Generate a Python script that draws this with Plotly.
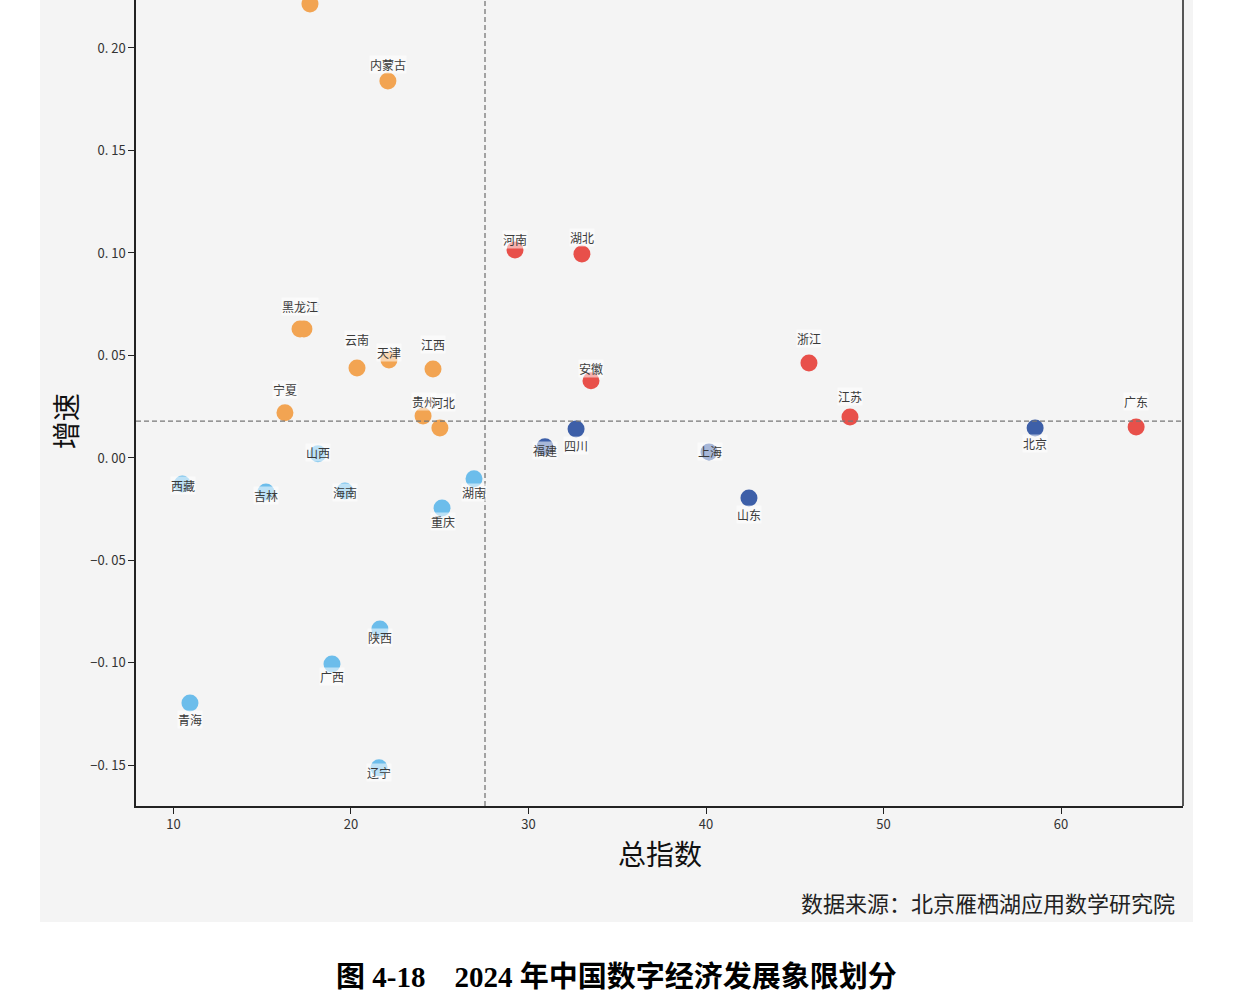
import plotly.graph_objects as go

# ---------------- data ----------------
provinces = ["新疆", "内蒙古", "甘肃", "黑龙江", "云南", "天津", "江西", "宁夏", "贵州", "河北",
             "河南", "湖北", "安徽", "浙江", "江苏", "广东",
             "四川", "福建", "上海", "北京", "山东",
             "山西", "西藏", "吉林", "海南", "湖南", "重庆", "陕西", "广西", "青海", "辽宁"]
total_index = [17.69, 22.08, 17.35, 17.13, 20.34, 22.14, 24.62, 16.28, 24.06, 25.01,
               29.24, 33.01, 33.52, 45.80, 48.11, 64.23,
               32.68, 30.93, 40.17, 58.54, 42.42,
               18.14, 10.50, 15.21, 19.66, 26.93, 25.13, 21.63, 18.93, 10.93, 21.58]
growth = [0.2215, 0.1839, 0.0629, 0.0629, 0.0439, 0.0478, 0.0434, 0.0220, 0.0205, 0.0146,
          0.1015, 0.0995, 0.0376, 0.0463, 0.0200, 0.0151,
          0.0141, 0.0054, 0.0029, 0.0146, -0.0195,
          0.0020, -0.0127, -0.0166, -0.0161, -0.0102, -0.0244, -0.0834, -0.1005, -0.1195, -0.1512]
quadrant = ["低总指数高增速"] * 10 + ["高总指数高增速"] * 6 + ["高总指数低增速"] * 5 + ["低总指数低增速"] * 10
mean_index = 27.55
mean_growth = 0.018

y_tickvals = [-0.15, -0.10, -0.05, 0.00, 0.05, 0.10, 0.15, 0.20]
y_ticktext = ["−0. 15", "−0. 10", "−0. 05", "0. 00", "0. 05", "0. 10", "0. 15", "0. 20"]
x_tickvals = [10, 20, 30, 40, 50, 60]

# ---------------- styles ----------------
colors = {"低总指数高增速": "#F2A452", "高总指数高增速": "#E8504A",
          "高总指数低增速": "#3D5FA8", "低总指数低增速": "#6CBDEB"}
# label pixel offsets (dx, dy) relative to each point, screen-down positive dy
label_offsets = {
    "新疆": (0, -34), "内蒙古": (0, -16), "黑龙江": (0, -23), "甘肃": (4, -23), "云南": (0, -28),
    "天津": (0, -7), "江西": (0, -24), "宁夏": (0, -23), "贵州": (1, -14), "河北": (3, -26),
    "河南": (0, -10), "湖北": (0, -16), "安徽": (0, -12), "浙江": (0, -25), "江苏": (0, -20),
    "广东": (0, -25), "四川": (0, 16), "福建": (0, 4), "上海": (1, 0), "北京": (0, 15),
    "山东": (0, 17), "山西": (0, -1), "西藏": (1, 2), "吉林": (0, 4), "海南": (0, 2),
    "湖南": (0, 14), "重庆": (1, 14), "陕西": (0, 9), "广西": (0, 13), "青海": (0, 17),
    "辽宁": (0, 5),
}
faint_labels = {"甘肃"}

FONT = "Noto Sans CJK SC, Noto Sans, sans-serif"

fig = go.Figure()
fig.add_trace(go.Scatter(
    x=total_index, y=growth, mode="markers",
    marker=dict(size=17, color=[colors[q] for q in quadrant], line=dict(width=0)),
    text=provinces, hoverinfo="text", showlegend=False, cliponaxis=False,
))

annotations = []
for name, xv, yv in zip(provinces, total_index, growth):
    dx, dy = label_offsets[name]
    faint = name in faint_labels
    annotations.append(dict(
        x=xv, y=yv, xref="x", yref="y", text=name, showarrow=False,
        xshift=dx, yshift=-dy,
        font=dict(family=FONT, size=12, color="rgba(58,58,58,0.18)" if faint else "#3a3a3a"),
        bgcolor="rgba(255,255,255,0.15)" if faint else "rgba(255,255,255,0.55)", borderpad=0,
    ))

# axis titles & texts
annotations += [
    dict(x=0.5, y=-0.058, xref="paper", yref="paper", text="总指数", showarrow=False,
         font=dict(family=FONT, size=28, color="#111"), xanchor="center", yanchor="middle"),
    dict(x=-0.068, y=0.477, xref="paper", yref="paper", text="增速", showarrow=False,
         textangle=-90, font=dict(family=FONT, size=28, color="#111"), xanchor="center", yanchor="middle"),
    dict(x=0.9943, y=-0.119, xref="paper", yref="paper", text="数据来源：北京雁栖湖应用数学研究院",
         showarrow=False, font=dict(family=FONT, size=22, color="#222"), xanchor="right", yanchor="middle"),
    dict(x=0.4594, y=-0.212, xref="paper", yref="paper",
         text="<b>图 4-18    2024 年中国数字经济发展象限划分</b>",
         showarrow=False, font=dict(family="Liberation Serif, Noto Sans CJK SC", size=29, color="#000"),
         xanchor="center", yanchor="middle"),
]

shapes = [
    # gray figure background panel
    dict(type="rect", xref="paper", yref="paper", x0=-0.0917, x1=1.0095, y0=-0.1439, y1=1.05,
         fillcolor="#F4F4F4", line=dict(width=0), layer="below"),
    # right border
    dict(type="line", xref="paper", yref="paper", x0=1, x1=1, y0=0, y1=1.05,
         line=dict(color="#222", width=1.5)),
    # mean lines
    dict(type="line", xref="x", yref="paper", x0=mean_index, x1=mean_index, y0=0, y1=1.05,
         line=dict(color="#777", width=1.3, dash="5px,3px")),
    dict(type="line", xref="paper", yref="y", x0=0, x1=1, y0=mean_growth, y1=mean_growth,
         line=dict(color="#777", width=1.3, dash="5px,3px")),
]

fig.update_layout(
    width=1233, height=1008,
    margin=dict(l=136, r=50, t=0, b=202),
    paper_bgcolor="white", plot_bgcolor="rgba(0,0,0,0)",
    annotations=annotations, shapes=shapes,
    font=dict(family=FONT),
    xaxis=dict(range=[7.89, 66.87], tickvals=x_tickvals, showgrid=False, zeroline=False,
               showline=True, linecolor="#222", linewidth=1.5, ticks="outside", ticklen=6,
               tickcolor="#222", tickfont=dict(family=FONT, size=13, color="#333")),
    yaxis=dict(range=[-0.1698, 0.2234], tickvals=y_tickvals, ticktext=y_ticktext, showgrid=False,
               zeroline=False, showline=True, linecolor="#222", linewidth=1.5, ticks="outside",
               ticklen=6, tickcolor="#222", tickfont=dict(family=FONT, size=13, color="#333")),
)

fig.write_html("out.html")
